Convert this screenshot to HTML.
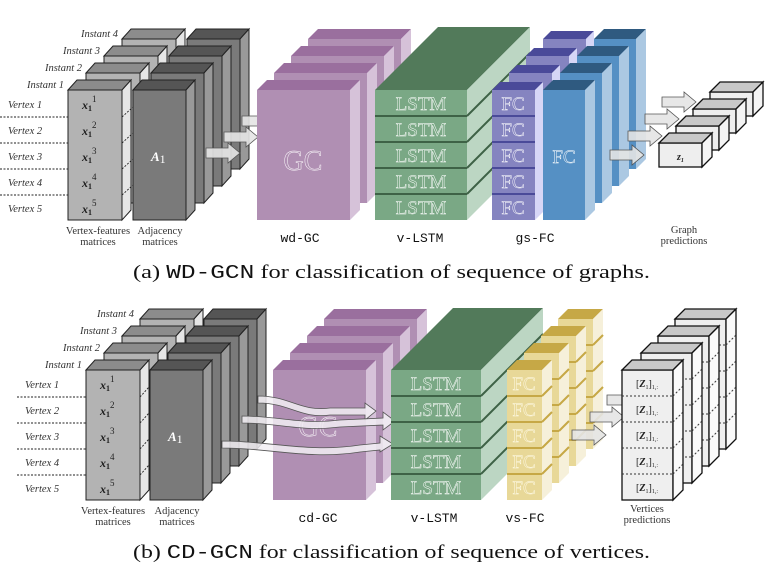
<!DOCTYPE html>
<html><head><meta charset="utf-8"><style>
html,body{margin:0;padding:0;background:#fff;}
svg{display:block}
.it{font-family:"Liberation Serif",serif;font-style:italic;font-size:10.5px;fill:#333}
.sm{font-family:"Liberation Serif",serif;font-size:10.5px;fill:#333}
.mono{font-family:"Liberation Mono",monospace;font-size:13px;fill:#111}
.ol{font-family:"Liberation Serif",serif;stroke:#fff;stroke-width:0.45;}
.cap{font-family:"Liberation Serif",serif;font-size:19px;fill:#111}
</style></head><body>
<svg width="782" height="578" viewBox="0 0 782 578" xmlns="http://www.w3.org/2000/svg">
<defs>
<g id="fb">
<rect x="0" y="0" width="54" height="130" fill="#b3b3b3" stroke="#222" stroke-width="1"/>
<polygon points="0,0 9,-10 63,-10 54,0" fill="#8c8c8c" stroke="#222"/>
<polygon points="54,0 63,-10 63,120 54,130" fill="#e6e6e6" stroke="#222"/>
</g>
<g id="ab">
<rect x="0" y="0" width="53" height="130" fill="#7a7a7a" stroke="#222"/>
<polygon points="0,0 9,-10 62,-10 53,0" fill="#555" stroke="#222"/>
<polygon points="53,0 62,-10 62,120 53,130" fill="#999" stroke="#222"/>
</g>
<g id="gc">
<rect x="0" y="0" width="93" height="130" fill="#b08fb3"/>
<polygon points="0,0 10,-10 103,-10 93,0" fill="#9a6f9e"/>
<polygon points="93,0 103,-10 103,120 93,130" fill="#d6c2d9"/>
</g>
<g id="sfc">
<rect x="0" y="0" width="43" height="130" fill="#8584c0"/>
<polygon points="0,0 8,-8 51,-8 43,0" fill="#4a4a99"/>
<polygon points="43,0 51,-8 51,122 43,130" fill="#d6d6f6"/>
<g stroke="#4a4a99" stroke-width="2"><line x1="0" y1="26" x2="43" y2="26"/><line x1="0" y1="52" x2="43" y2="52"/><line x1="0" y1="78" x2="43" y2="78"/><line x1="0" y1="104" x2="43" y2="104"/></g>
</g>
<g id="bfc">
<rect x="0" y="0" width="42" height="130" fill="#5590c4"/>
<polygon points="0,0 10,-10 52,-10 42,0" fill="#2f5a80"/>
<polygon points="42,0 52,-10 52,120 42,130" fill="#abc8e2"/>
</g>
<g id="gp">
<rect x="0" y="0" width="43" height="24" fill="#eee" stroke="#111" stroke-width="1.3"/>
<polygon points="0,0 10,-10 53,-10 43,0" fill="#c8c8c8" stroke="#111" stroke-width="1.3"/>
<polygon points="43,0 53,-10 53,14 43,24" fill="#f4f4f4" stroke="#111" stroke-width="1.3"/>
</g>
<g id="yfc">
<rect x="0" y="0" width="35" height="130" fill="#e8d898"/>
<polygon points="0,0 10,-10 45,-10 35,0" fill="#c6a846"/>
<polygon points="35,0 45,-10 45,120 35,130" fill="#f6f0da"/>
<g stroke="#c6a846" stroke-width="2"><line x1="0" y1="26" x2="35" y2="26"/><line x1="0" y1="52" x2="35" y2="52"/><line x1="0" y1="78" x2="35" y2="78"/><line x1="0" y1="104" x2="35" y2="104"/>
<line x1="35" y1="26" x2="45" y2="16"/><line x1="35" y1="52" x2="45" y2="42"/><line x1="35" y1="78" x2="45" y2="68"/><line x1="35" y1="104" x2="45" y2="94"/></g>
</g>
<g id="vp">
<rect x="0" y="0" width="51" height="130" fill="#efefef" stroke="#111" stroke-width="1.3"/>
<polygon points="0,0 10,-10 61,-10 51,0" fill="#c8c8c8" stroke="#111" stroke-width="1.3"/>
<polygon points="51,0 61,-10 61,120 51,130" fill="#fafafa" stroke="#111" stroke-width="1.3"/>
<g stroke="#333" stroke-dasharray="2,2"><line x1="0" y1="26" x2="51" y2="26"/><line x1="0" y1="52" x2="51" y2="52"/><line x1="0" y1="78" x2="51" y2="78"/><line x1="0" y1="104" x2="51" y2="104"/>
<line x1="51" y1="26" x2="61" y2="16"/><line x1="51" y1="52" x2="61" y2="42"/><line x1="51" y1="78" x2="61" y2="68"/><line x1="51" y1="104" x2="61" y2="94"/></g>
</g>
<g id="arr"><polygon points="0,-5 22,-5 22,-10 34,0 22,10 22,5 0,5" fill="#e4e4e4" fill-opacity="0.9" stroke="#555" stroke-width="0.8"/></g>
</defs>

<g>
<use href="#fb" x="122" y="39"/><use href="#ab" x="187" y="39"/>
<use href="#fb" x="104" y="56"/><use href="#ab" x="169" y="56"/>
<use href="#fb" x="86" y="73"/><use href="#ab" x="151" y="73"/>
<use href="#fb" x="68" y="90"/><use href="#ab" x="133" y="90"/>
</g>
<g stroke="#222" stroke-dasharray="2,1.5" stroke-width="0.9">
<line x1="0" y1="117" x2="68" y2="117"/><line x1="0" y1="143" x2="68" y2="143"/><line x1="0" y1="169" x2="68" y2="169"/><line x1="0" y1="195" x2="68" y2="195"/>
<line x1="122" y1="117" x2="133" y2="107"/><line x1="122" y1="143" x2="133" y2="133"/><line x1="122" y1="169" x2="133" y2="159"/><line x1="122" y1="195" x2="133" y2="185"/>
</g>
<text class="it" x="64" y="88" text-anchor="end">Instant 1</text>
<text class="it" x="82" y="71" text-anchor="end">Instant 2</text>
<text class="it" x="100" y="54" text-anchor="end">Instant 3</text>
<text class="it" x="118" y="37" text-anchor="end">Instant 4</text>
<g class="it"><text x="8" y="108">Vertex 1</text><text x="8" y="134">Vertex 2</text><text x="8" y="160">Vertex 3</text><text x="8" y="186">Vertex 4</text><text x="8" y="212">Vertex 5</text></g>
<g font-family="Liberation Serif,serif" font-size="12" font-weight="bold" font-style="italic" fill="#222">
<text x="82" y="109">x<tspan font-size="8" font-style="normal" dy="2">1</tspan><tspan font-size="9" font-style="normal" font-weight="normal" dy="-9">1</tspan></text>
<text x="82" y="135">x<tspan font-size="8" font-style="normal" dy="2">1</tspan><tspan font-size="9" font-style="normal" font-weight="normal" dy="-9">2</tspan></text>
<text x="82" y="161">x<tspan font-size="8" font-style="normal" dy="2">1</tspan><tspan font-size="9" font-style="normal" font-weight="normal" dy="-9">3</tspan></text>
<text x="82" y="187">x<tspan font-size="8" font-style="normal" dy="2">1</tspan><tspan font-size="9" font-style="normal" font-weight="normal" dy="-9">4</tspan></text>
<text x="82" y="213">x<tspan font-size="8" font-style="normal" dy="2">1</tspan><tspan font-size="9" font-style="normal" font-weight="normal" dy="-9">5</tspan></text>
<text x="151" y="161" fill="#fff" font-size="13">A<tspan font-size="12" font-style="normal" font-weight="normal" dy="2">1</tspan></text>
</g>
<text class="sm" x="98" y="234" text-anchor="middle">Vertex-features</text>
<text class="sm" x="98" y="245" text-anchor="middle">matrices</text>
<text class="sm" x="160" y="234" text-anchor="middle">Adjacency</text>
<text class="sm" x="160" y="245" text-anchor="middle">matrices</text>
<use href="#arr" x="242" y="121"/>
<use href="#arr" x="224" y="137"/>
<use href="#arr" x="206" y="153"/>

<use href="#gc" x="308" y="39"/><use href="#gc" x="291" y="56"/><use href="#gc" x="274" y="73"/><use href="#gc" x="257" y="90"/>
<text x="303" y="170" font-size="28" text-anchor="middle" fill="#b08fb3" class="ol">GC</text>

<polygon points="375,90 438,27 530,27 467,90" fill="#527a5a"/>
<polygon points="467,90 530,27 530,157 467,220" fill="#bcd6c3"/>
<rect x="375" y="90" width="92" height="130" fill="#7aa885"/>
<g stroke="#3e6246" stroke-width="2"><line x1="375" y1="116" x2="467" y2="116"/><line x1="375" y1="142" x2="467" y2="142"/><line x1="375" y1="168" x2="467" y2="168"/><line x1="375" y1="194" x2="467" y2="194"/>
<line x1="467" y1="116" x2="530" y2="53"/><line x1="467" y1="142" x2="530" y2="79"/><line x1="467" y1="168" x2="530" y2="105"/><line x1="467" y1="194" x2="530" y2="131"/></g>
<g class="ol" font-size="19" fill="#7aa885" text-anchor="middle"><text x="421" y="110">LSTM</text><text x="421" y="136">LSTM</text><text x="421" y="162">LSTM</text><text x="421" y="188">LSTM</text><text x="421" y="214">LSTM</text></g>

<use href="#sfc" x="543" y="39"/><use href="#sfc" x="526" y="56"/><use href="#sfc" x="509" y="73"/><use href="#sfc" x="492" y="90"/>
<g class="ol" font-size="19" fill="#8584c0" text-anchor="middle"><text x="513" y="110">FC</text><text x="513" y="136">FC</text><text x="513" y="162">FC</text><text x="513" y="188">FC</text><text x="513" y="214">FC</text></g>
<use href="#bfc" x="594" y="39"/><use href="#bfc" x="577" y="56"/><use href="#bfc" x="560" y="73"/><use href="#bfc" x="543" y="90"/>
<text x="564" y="163" font-size="19" class="ol" fill="#5590c4" text-anchor="middle">FC</text>

<text class="mono" x="300" y="242" text-anchor="middle">wd-GC</text>
<text class="mono" x="420" y="242" text-anchor="middle">v-LSTM</text>
<text class="mono" x="535" y="242" text-anchor="middle">gs-FC</text>

<use href="#arr" x="662" y="102"/>
<use href="#arr" x="645" y="119"/>
<use href="#arr" x="628" y="136"/>
<use href="#arr" x="610" y="155"/>
<use href="#gp" x="710" y="92"/><use href="#gp" x="693" y="109"/><use href="#gp" x="676" y="126"/><use href="#gp" x="659" y="143"/>
<text x="677" y="160" font-family="Liberation Serif,serif" font-style="italic" font-weight="bold" font-size="10" fill="#222">z<tspan font-size="6" dy="2">1</tspan></text>
<text class="sm" x="684" y="233" text-anchor="middle">Graph</text>
<text class="sm" x="684" y="244" text-anchor="middle">predictions</text>

<text class="cap" x="133" y="278" textLength="517" lengthAdjust="spacingAndGlyphs">(a) <tspan font-family="Liberation Mono,monospace">WD-GCN</tspan> for classification of sequence of graphs.</text>

<g>
<use href="#fb" x="140" y="319"/><use href="#ab" x="204" y="319"/>
<use href="#fb" x="122" y="336"/><use href="#ab" x="186" y="336"/>
<use href="#fb" x="104" y="353"/><use href="#ab" x="168" y="353"/>
<use href="#fb" x="86" y="370"/><use href="#ab" x="150" y="370"/>
</g>
<g stroke="#222" stroke-dasharray="2,1.5" stroke-width="0.9">
<line x1="17" y1="397" x2="86" y2="397"/><line x1="17" y1="423" x2="86" y2="423"/><line x1="17" y1="449" x2="86" y2="449"/><line x1="17" y1="475" x2="86" y2="475"/>
<line x1="140" y1="397" x2="149" y2="387"/><line x1="140" y1="423" x2="149" y2="413"/><line x1="140" y1="449" x2="149" y2="439"/><line x1="140" y1="475" x2="149" y2="465"/>
</g>
<text class="it" x="82" y="368" text-anchor="end">Instant 1</text>
<text class="it" x="100" y="351" text-anchor="end">Instant 2</text>
<text class="it" x="117" y="334" text-anchor="end">Instant 3</text>
<text class="it" x="134" y="317" text-anchor="end">Instant 4</text>
<g class="it"><text x="25" y="388">Vertex 1</text><text x="25" y="414">Vertex 2</text><text x="25" y="440">Vertex 3</text><text x="25" y="466">Vertex 4</text><text x="25" y="492">Vertex 5</text></g>
<g font-family="Liberation Serif,serif" font-size="12" font-weight="bold" font-style="italic" fill="#222">
<text x="100" y="389">x<tspan font-size="8" font-style="normal" dy="2">1</tspan><tspan font-size="9" font-style="normal" font-weight="normal" dy="-9">1</tspan></text>
<text x="100" y="415">x<tspan font-size="8" font-style="normal" dy="2">1</tspan><tspan font-size="9" font-style="normal" font-weight="normal" dy="-9">2</tspan></text>
<text x="100" y="441">x<tspan font-size="8" font-style="normal" dy="2">1</tspan><tspan font-size="9" font-style="normal" font-weight="normal" dy="-9">3</tspan></text>
<text x="100" y="467">x<tspan font-size="8" font-style="normal" dy="2">1</tspan><tspan font-size="9" font-style="normal" font-weight="normal" dy="-9">4</tspan></text>
<text x="100" y="493">x<tspan font-size="8" font-style="normal" dy="2">1</tspan><tspan font-size="9" font-style="normal" font-weight="normal" dy="-9">5</tspan></text>
<text x="168" y="441" fill="#fff" font-size="13">A<tspan font-size="12" font-style="normal" font-weight="normal" dy="2">1</tspan></text>
</g>
<text class="sm" x="113" y="514" text-anchor="middle">Vertex-features</text>
<text class="sm" x="113" y="525" text-anchor="middle">matrices</text>
<text class="sm" x="177" y="514" text-anchor="middle">Adjacency</text>
<text class="sm" x="177" y="525" text-anchor="middle">matrices</text>

<use href="#gc" x="324" y="319"/><use href="#gc" x="307" y="336"/><use href="#gc" x="290" y="353"/><use href="#gc" x="273" y="370"/>
<text x="318" y="436" font-size="28" text-anchor="middle" fill="#b08fb3" class="ol">GC</text>

<g fill="#f2eef3" fill-opacity="0.85" stroke="#555" stroke-width="0.8">
<path d="M258,396 C290,396 300,412 330,408 L365,408 L365,403 L376,411 L365,420 L365,415 L330,415 C300,419 290,403 258,403 Z"/>
<path d="M242,416 C280,416 300,425 340,420 L383,418 L383,412 L395,421 L383,430 L383,425 L340,427 C300,432 280,423 242,423 Z"/>
<path d="M222,441 C270,441 310,453 360,445 L380,443 L380,436 L393,444 L380,452 L380,450 L360,452 C310,460 270,448 222,448 Z"/>
</g>

<polygon points="391,370 453,308 543,308 481,370" fill="#527a5a"/>
<polygon points="481,370 543,308 543,438 481,500" fill="#bcd6c3"/>
<rect x="391" y="370" width="90" height="130" fill="#7aa885"/>
<g stroke="#3e6246" stroke-width="2"><line x1="391" y1="396" x2="481" y2="396"/><line x1="391" y1="422" x2="481" y2="422"/><line x1="391" y1="448" x2="481" y2="448"/><line x1="391" y1="474" x2="481" y2="474"/>
<line x1="481" y1="396" x2="543" y2="334"/><line x1="481" y1="422" x2="543" y2="360"/><line x1="481" y1="448" x2="543" y2="386"/><line x1="481" y1="474" x2="543" y2="412"/></g>
<g class="ol" font-size="19" fill="#7aa885" text-anchor="middle"><text x="436" y="390">LSTM</text><text x="436" y="416">LSTM</text><text x="436" y="442">LSTM</text><text x="436" y="468">LSTM</text><text x="436" y="494">LSTM</text></g>

<use href="#yfc" x="558" y="319"/><use href="#yfc" x="541" y="336"/><use href="#yfc" x="524" y="353"/><use href="#yfc" x="507" y="370"/>
<g class="ol" font-size="19" fill="#e8d898" text-anchor="middle" style="stroke:#fffbe8"><text x="524" y="390">FC</text><text x="524" y="416">FC</text><text x="524" y="442">FC</text><text x="524" y="468">FC</text><text x="524" y="494">FC</text></g>

<text class="mono" x="318" y="522" text-anchor="middle">cd-GC</text>
<text class="mono" x="434" y="522" text-anchor="middle">v-LSTM</text>
<text class="mono" x="525" y="522" text-anchor="middle">vs-FC</text>

<use href="#arr" x="607" y="400"/>
<use href="#arr" x="590" y="417"/>
<use href="#arr" x="572" y="435"/>
<use href="#vp" x="675" y="319"/><use href="#vp" x="658" y="336"/><use href="#vp" x="641" y="353"/><use href="#vp" x="622" y="370"/>
<g font-family="Liberation Serif,serif" font-size="10" fill="#222" text-anchor="middle">
<text x="647" y="387">[<tspan font-weight="bold" font-style="italic">Z</tspan><tspan font-size="6" dy="2">1</tspan><tspan dy="-2">]</tspan><tspan font-size="6" dy="2">1,:</tspan></text>
<text x="647" y="413">[<tspan font-weight="bold" font-style="italic">Z</tspan><tspan font-size="6" dy="2">1</tspan><tspan dy="-2">]</tspan><tspan font-size="6" dy="2">1,:</tspan></text>
<text x="647" y="439">[<tspan font-weight="bold" font-style="italic">Z</tspan><tspan font-size="6" dy="2">1</tspan><tspan dy="-2">]</tspan><tspan font-size="6" dy="2">1,:</tspan></text>
<text x="647" y="465">[<tspan font-weight="bold" font-style="italic">Z</tspan><tspan font-size="6" dy="2">1</tspan><tspan dy="-2">]</tspan><tspan font-size="6" dy="2">1,:</tspan></text>
<text x="647" y="491">[<tspan font-weight="bold" font-style="italic">Z</tspan><tspan font-size="6" dy="2">1</tspan><tspan dy="-2">]</tspan><tspan font-size="6" dy="2">1,:</tspan></text>
</g>
<text class="sm" x="647" y="512" text-anchor="middle">Vertices</text>
<text class="sm" x="647" y="523" text-anchor="middle">predictions</text>

<text class="cap" x="133" y="558" textLength="517" lengthAdjust="spacingAndGlyphs">(b) <tspan font-family="Liberation Mono,monospace">CD-GCN</tspan> for classification of sequence of vertices.</text>
</svg>
</body></html>
